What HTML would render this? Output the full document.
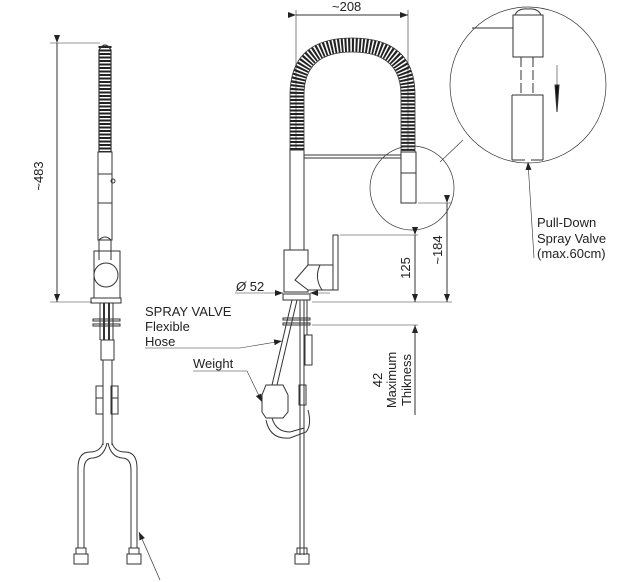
<!DOCTYPE html>
<html><head><meta charset="utf-8"><style>
html,body{margin:0;padding:0;background:#fff;}
svg{display:block;}
text{font-family:"Liberation Sans",sans-serif;fill:#222;}
</style></head><body>
<svg width="630" height="582" viewBox="0 0 630 582" xmlns="http://www.w3.org/2000/svg">
<defs>
<marker id="ar" markerWidth="8" markerHeight="6" refX="8" refY="3" orient="auto" markerUnits="userSpaceOnUse"><path d="M0,0 L8,3 L0,6 z" fill="#222"/></marker>
</defs>
<g fill="none" stroke="#333" stroke-width="1">
<!-- LEFT VIEW -->
<line x1="57" y1="43" x2="57" y2="302" marker-start="url(#ar)" marker-end="url(#ar)"/>
<line x1="50" y1="43" x2="100" y2="43" stroke-width="0.6"/>
<line x1="50" y1="302" x2="92" y2="302" stroke-width="0.6"/>
<line x1="105" y1="46" x2="105" y2="152" stroke="#222" stroke-width="13" stroke-dasharray="2 1.5"/>
<path d="M99,152 L99,50 Q105,40 111,50 L111,152" stroke-width="1.2"/>
<rect x="98" y="152" width="14" height="88"/>
<line x1="98" y1="174" x2="112" y2="174"/>
<line x1="98" y1="203" x2="112" y2="203"/>
<circle cx="113" cy="181" r="2"/>
<path d="M99,260 L99,240 Q105,234 111,240 L111,260"/>
<rect x="94" y="251" width="26" height="47"/>
<circle cx="106" cy="275" r="12" fill="#fff"/>
<rect x="91" y="298" width="30" height="5"/>
<line x1="100" y1="303" x2="100" y2="340"/><line x1="104" y1="303" x2="104" y2="340" stroke-width="2"/><line x1="109" y1="303" x2="109" y2="340" stroke-width="2"/><line x1="113" y1="303" x2="113" y2="340"/>
<rect x="93" y="319" width="27" height="2"/><rect x="93" y="324" width="27" height="2"/>
<rect x="101" y="340" width="13" height="20"/>
<line x1="103" y1="360" x2="103" y2="445"/><line x1="112" y1="360" x2="112" y2="445"/>
<rect x="96" y="386" width="7" height="28"/><rect x="111" y="386" width="7" height="28"/>
<line x1="96" y1="398" x2="103" y2="398"/><line x1="111" y1="398" x2="118" y2="398"/>
<path d="M103,443 Q100,452 90,452 Q78,452 78,468 L78,548"/>
<path d="M107,443 Q104,457 93,458 Q84,458 84,470 L84,548"/>
<path d="M112,443 Q115,452 125,452 Q137,452 137,468 L137,548"/>
<path d="M108,443 Q111,457 122,458 Q131,458 131,470 L131,548"/>
<rect x="76" y="548" width="10" height="6"/><rect x="74" y="554" width="14" height="10"/>
<rect x="129" y="548" width="10" height="6"/><rect x="127" y="554" width="14" height="10"/>
<line x1="160" y1="580" x2="139" y2="532" stroke-width="0.7" marker-end="url(#ar)"/>

<!-- MIDDLE VIEW -->
<line x1="296" y1="15" x2="408" y2="15" marker-start="url(#ar)" marker-end="url(#ar)"/>
<line x1="296" y1="10" x2="296" y2="150" stroke-width="0.6"/>
<line x1="408" y1="10" x2="408" y2="150" stroke-width="0.6"/>
<path d="M297,150 L297,95 Q297,45 352,45 Q408,45 408,95 L408,152" stroke="#222" stroke-width="14" stroke-dasharray="2 1.5"/>
<path d="M290,150 L290,95 Q290,38 352,38 Q415,38 415,95 L415,152" stroke-width="0.8"/>
<path d="M304,150 L304,95 Q304,52 352,52 Q401,52 401,95 L401,152" stroke-width="0.8"/>
<rect x="290" y="150" width="14" height="100"/>
<line x1="304" y1="155" x2="401" y2="155"/><line x1="304" y1="158" x2="401" y2="158"/>
<rect x="401" y="152" width="15" height="51"/>
<line x1="401" y1="173" x2="416" y2="173"/>
<circle cx="412" cy="188" r="42" stroke-width="0.7"/>
<path d="M284,250 L308,250 L308,265 L338,265 L338,290 L308,290 L308,292 L284,292 Z"/>
<path d="M308,265 L295,280 L308,290" fill="none"/>
<path d="M320,265 Q314,278 322,290"/>
<rect x="333" y="235" width="5" height="55" fill="#fff"/>
<rect x="283" y="294" width="27" height="6"/>
<line x1="235" y1="293" x2="283" y2="293" stroke-width="0.6" marker-end="url(#ar)"/>
<line x1="330" y1="293" x2="310" y2="293" stroke-width="0.6" marker-end="url(#ar)"/>
<line x1="340" y1="235" x2="418" y2="235" stroke-width="0.6"/>
<line x1="312" y1="302" x2="452" y2="302" stroke-width="0.6"/>
<line x1="312" y1="325" x2="418" y2="325" stroke-width="0.6"/>
<line x1="418" y1="203" x2="452" y2="203" stroke-width="0.6"/>
<line x1="415" y1="235" x2="415" y2="302" marker-start="url(#ar)" marker-end="url(#ar)"/>
<line x1="447" y1="203" x2="447" y2="302" marker-start="url(#ar)" marker-end="url(#ar)"/>
<line x1="415" y1="345" x2="415" y2="325" marker-end="url(#ar)"/>
<line x1="415" y1="325" x2="415" y2="415"/>
<path d="M292,300 L272,385"/><path d="M297,300 L277,385"/>
<line x1="300" y1="300" x2="300" y2="555"/><line x1="304" y1="300" x2="304" y2="555"/>
<line x1="307" y1="300" x2="307" y2="335"/>
<rect x="305" y="335" width="7" height="30"/>
<rect x="283" y="318" width="27" height="2"/><rect x="283" y="323" width="27" height="2"/>
<rect x="299" y="385" width="7" height="20"/>
<path d="M266,385 L283,385 L288,395 L288,412 L283,418 L266,418 L262,412 L262,395 Z" fill="#fff"/>
<path d="M266,420 Q270,440 290,438 L306,432 Q312,425 308,410"/>
<path d="M272,418 Q276,432 290,432 L304,428"/>
<rect x="297" y="548" width="10" height="6"/><rect x="295" y="554" width="14" height="10"/>

<path d="M145,348 L240,348 L282,341" stroke-width="0.6" marker-end="url(#ar)"/>
<path d="M193,371 L247,371 L262,402" stroke-width="0.6" marker-end="url(#ar)"/>

<!-- DETAIL CIRCLE -->
<circle cx="528" cy="85" r="78" stroke-width="0.7"/>
<line x1="463" y1="140" x2="440" y2="162" stroke-width="0.6"/>
<line x1="472" y1="28" x2="513" y2="28"/>
<rect x="513" y="15" width="30" height="42"/>
<path d="M515,15 Q518,8 528,9 Q538,8 541,15"/>
<line x1="521" y1="57" x2="521" y2="95" stroke-dasharray="10 3"/>
<line x1="533" y1="57" x2="533" y2="95" stroke-dasharray="10 3"/>
<path d="M512,95 L543,95 L543,160 M512,160 L512,95" />
<line x1="512" y1="160" x2="525" y2="160"/><line x1="531" y1="160" x2="543" y2="160"/>
<line x1="557" y1="65" x2="557" y2="85" stroke-width="0.6"/>
<path d="M555,85 L559,85 L557,112 Z" fill="#111"/>
<line x1="534" y1="258" x2="528" y2="162" stroke-width="0.6" marker-end="url(#ar)"/>
</g>
<text font-size="13" transform="translate(43,176) rotate(-90)" text-anchor="middle">~483</text>
<text x="332" y="11" font-size="13">~208</text>
<text x="236" y="291" font-size="13"><tspan font-style="italic">Ø</tspan> 52</text>
<text font-size="13" transform="translate(410,268) rotate(-90)" text-anchor="middle">125</text>
<text font-size="13" transform="translate(442,250) rotate(-90)" text-anchor="middle">~184</text>
<text font-size="13" transform="translate(382,380) rotate(-90)" text-anchor="middle">42</text>
<text font-size="13" transform="translate(396,380) rotate(-90)" text-anchor="middle">Maximum</text>
<text font-size="13" transform="translate(411,380) rotate(-90)" text-anchor="middle">Thikness</text>
<text x="145" y="316" font-size="13">SPRAY VALVE</text>
<text x="145" y="331" font-size="13">Flexible</text>
<text x="145" y="346" font-size="13">Hose</text>
<text x="193" y="368" font-size="13">Weight</text>
<text x="537" y="227" font-size="13">Pull-Down</text>
<text x="537" y="243" font-size="13">Spray Valve</text>
<text x="537" y="258" font-size="13">(max.60cm)</text>
</svg>
</body></html>
